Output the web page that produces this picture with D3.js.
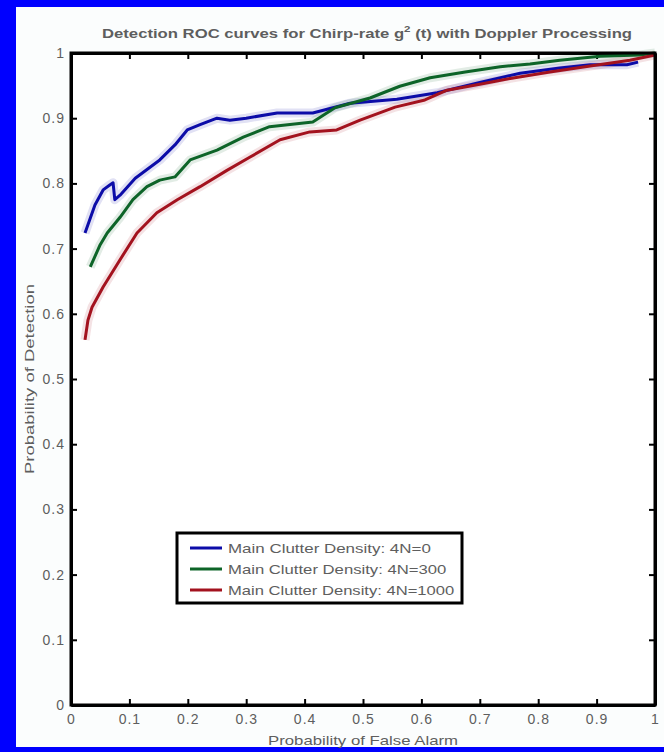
<!DOCTYPE html>
<html>
<head>
<meta charset="utf-8">
<script src="https://cdn.jsdelivr.net/npm/d3@7"></script>
<style>
    body { margin: 0; background: #0000ff; }
    text { font-family: "Liberation Sans", Arial, sans-serif; }
</style>
</head>
<body>
<div id="roc_chart"></div>
<script>
// values (probability of false alarm, probability of detection)
const blueX = [0.024, 0.041, 0.055, 0.067, 0.072, 0.075, 0.084, 0.11, 0.152, 0.178, 0.199, 0.221, 0.25, 0.272, 0.30, 0.353, 0.414, 0.478, 0.558, 0.627, 0.70, 0.769, 0.837, 0.889, 0.952, 0.971];
const blueY = [0.724, 0.767, 0.790, 0.798, 0.801, 0.775, 0.782, 0.808, 0.836, 0.859, 0.882, 0.890, 0.900, 0.897, 0.900, 0.908, 0.908, 0.923, 0.929, 0.939, 0.955, 0.969, 0.977, 0.982, 0.982, 0.986];

const greenX = [0.033, 0.05, 0.062, 0.084, 0.106, 0.13, 0.152, 0.178, 0.204, 0.25, 0.295, 0.34, 0.414, 0.452, 0.512, 0.563, 0.615, 0.675, 0.735, 0.786, 0.837, 0.906, 0.974, 1.0];
const greenY = [0.672, 0.706, 0.724, 0.748, 0.775, 0.795, 0.805, 0.810, 0.836, 0.851, 0.871, 0.887, 0.894, 0.916, 0.931, 0.949, 0.962, 0.971, 0.979, 0.983, 0.989, 0.995, 0.997, 1.0];

const redX = [0.024, 0.029, 0.036, 0.055, 0.084, 0.113, 0.147, 0.182, 0.221, 0.267, 0.306, 0.358, 0.409, 0.455, 0.495, 0.555, 0.606, 0.644, 0.70, 0.752, 0.82, 0.889, 0.957, 1.0];
const redY = [0.56, 0.59, 0.61, 0.641, 0.683, 0.724, 0.755, 0.775, 0.795, 0.82, 0.84, 0.867, 0.879, 0.882, 0.897, 0.917, 0.928, 0.943, 0.952, 0.961, 0.971, 0.98, 0.989, 0.997];

const tickValues = [0, 0.1, 0.2, 0.3, 0.4, 0.5, 0.6, 0.7, 0.8, 0.9, 1];
const tickLabels = ["0", "0.1", "0.2", "0.3", "0.4", "0.5", "0.6", "0.7", "0.8", "0.9", "1"];
const legendLabels = ["Main Clutter Density: 4N=0", "Main Clutter Density: 4N=300", "Main Clutter Density: 4N=1000"];
const seriesColors = ["#0c0ca8", "#0d6428", "#a3121e"];

function drawRocChart(FEATURE_ID) {
    const SVG_WIDTH = 664, SVG_HEIGHT = 752;
    const LEFT = 71, RIGHT = 655, TOP = 53, BOTTOM = 705;
    const TEXT_COLOR = "#5e5e5e";

    const svg = d3.select(`#${FEATURE_ID}`)
        .append("svg")
        .attr("width", SVG_WIDTH)
        .attr("height", SVG_HEIGHT)
        .style("display", "block");

    // blue window frame, white figure area
    svg.append("rect").attr("width", SVG_WIDTH).attr("height", SVG_HEIGHT).attr("fill", "#0000ff");
    svg.append("rect")
        .attr("x", 16).attr("y", 7)
        .attr("width", SVG_WIDTH - 16).attr("height", 740)
        .attr("fill", "#fbfdfd");

    const x = d3.scaleLinear().domain([0, 1]).range([LEFT, RIGHT]);
    const y = d3.scaleLinear().domain([0, 1]).range([BOTTOM, TOP]);

    svg.append("rect")
        .attr("x", LEFT).attr("y", TOP)
        .attr("width", RIGHT - LEFT).attr("height", BOTTOM - TOP)
        .attr("fill", "#ffffff");

    const fmt = (d, i) => tickLabels[i];

    // MATLAB style: ticks inside, on all four sides
    const axes = [
        {axis: d3.axisBottom(x).tickValues(tickValues).tickFormat(fmt).tickSizeInner(-6).tickSizeOuter(0).tickPadding(9), at: `translate(0,${BOTTOM})`},
        {axis: d3.axisTop(x).tickValues(tickValues).tickFormat("").tickSizeInner(-6).tickSizeOuter(0), at: `translate(0,${TOP})`},
        {axis: d3.axisLeft(y).tickValues(tickValues).tickFormat(fmt).tickSizeInner(-6).tickSizeOuter(0).tickPadding(6), at: `translate(${LEFT},0)`},
        {axis: d3.axisRight(y).tickValues(tickValues).tickFormat("").tickSizeInner(-6).tickSizeOuter(0), at: `translate(${RIGHT},0)`}
    ];

    axes.forEach((a) => {
        const g = svg.append("g").attr("transform", a.at).call(a.axis);
        g.select(".domain").attr("stroke", "#000").attr("stroke-width", 3);
        g.selectAll(".tick line").attr("stroke", "#000").attr("stroke-width", 2);
        g.selectAll(".tick text")
            .attr("fill", TEXT_COLOR)
            .style("font-size", "14px")
            .style("letter-spacing", "1px");
    });

    // curves
    const line = d3.line().x(d => x(d[0])).y(d => y(d[1]));
    const series = [
        d3.zip(blueX, blueY),
        d3.zip(greenX, greenY),
        d3.zip(redX, redY)
    ];

    const curveGroup = svg.append("g");
    // soft halo like the blurred reference
    series.forEach((points, index) => {
        curveGroup.append("path")
            .datum(points)
            .attr("d", line)
            .attr("fill", "none")
            .attr("stroke", seriesColors[index])
            .attr("stroke-opacity", 0.12)
            .attr("stroke-width", 9)
            .attr("stroke-linejoin", "round");
    });
    series.forEach((points, index) => {
        curveGroup.append("path")
            .datum(points)
            .attr("d", line)
            .attr("fill", "none")
            .attr("stroke", seriesColors[index])
            .attr("stroke-width", 3)
            .attr("stroke-linejoin", "round");
    });

    // box on top of the curves
    svg.append("rect")
        .attr("x", LEFT).attr("y", TOP)
        .attr("width", RIGHT - LEFT).attr("height", BOTTOM - TOP)
        .attr("fill", "none")
        .attr("stroke", "#000")
        .attr("stroke-width", 3);

    // title: stretch every piece by the same factor so it spans like the reference
    const TITLE_LEFT = 102, TITLE_WIDTH = 530;
    const title = svg.append("text")
        .attr("x", TITLE_LEFT)
        .attr("y", 38)
        .attr("fill", TEXT_COLOR)
        .style("font-size", "13px")
        .style("font-weight", "bold");
    const partA = title.append("tspan").text("Detection ROC curves for Chirp-rate g");
    const partB = title.append("tspan").attr("dy", -6).style("font-size", "9px").text("2");
    const partC = title.append("tspan").attr("dy", 6).text(" (t) with Doppler Processing");
    const widths = [partA, partB, partC].map(p => p.node().getComputedTextLength());
    const factor = TITLE_WIDTH / d3.sum(widths);
    [partA, partB, partC].forEach((p, i) => {
        p.attr("textLength", widths[i] * factor).attr("lengthAdjust", "spacingAndGlyphs");
    });

    svg.append("text")
        .attr("x", (LEFT + RIGHT) / 2)
        .attr("y", 745)
        .attr("text-anchor", "middle")
        .attr("fill", TEXT_COLOR)
        .attr("textLength", 190)
        .attr("lengthAdjust", "spacingAndGlyphs")
        .style("font-size", "13px")
        .text("Probability of False Alarm");

    svg.append("text")
        .attr("transform", `translate(34,${(TOP + BOTTOM) / 2}) rotate(-90)`)
        .attr("text-anchor", "middle")
        .attr("fill", TEXT_COLOR)
        .attr("textLength", 190)
        .attr("lengthAdjust", "spacingAndGlyphs")
        .style("font-size", "13px")
        .text("Probability of Detection");

    // legend
    const LEGEND_X = 177, LEGEND_Y = 533, LEGEND_W = 285, LEGEND_H = 70;
    const legend = svg.append("g");
    legend.append("rect")
        .attr("x", LEGEND_X).attr("y", LEGEND_Y)
        .attr("width", LEGEND_W).attr("height", LEGEND_H)
        .attr("fill", "#ffffff")
        .attr("stroke", "#000")
        .attr("stroke-width", 3);

    legendLabels.forEach((label, index) => {
        const rowY = LEGEND_Y + 15 + index * 21;
        legend.append("line")
            .attr("x1", LEGEND_X + 13).attr("x2", LEGEND_X + 45)
            .attr("y1", rowY).attr("y2", rowY)
            .attr("stroke", seriesColors[index])
            .attr("stroke-width", 3);
        legend.append("text")
            .attr("x", LEGEND_X + 51)
            .attr("y", rowY + 5)
            .attr("fill", TEXT_COLOR)
            .attr("textLength", label.length * 7.8)
            .attr("lengthAdjust", "spacingAndGlyphs")
            .style("font-size", "13px")
            .text(label);
    });
}

drawRocChart("roc_chart");
</script>
</body>
</html>
